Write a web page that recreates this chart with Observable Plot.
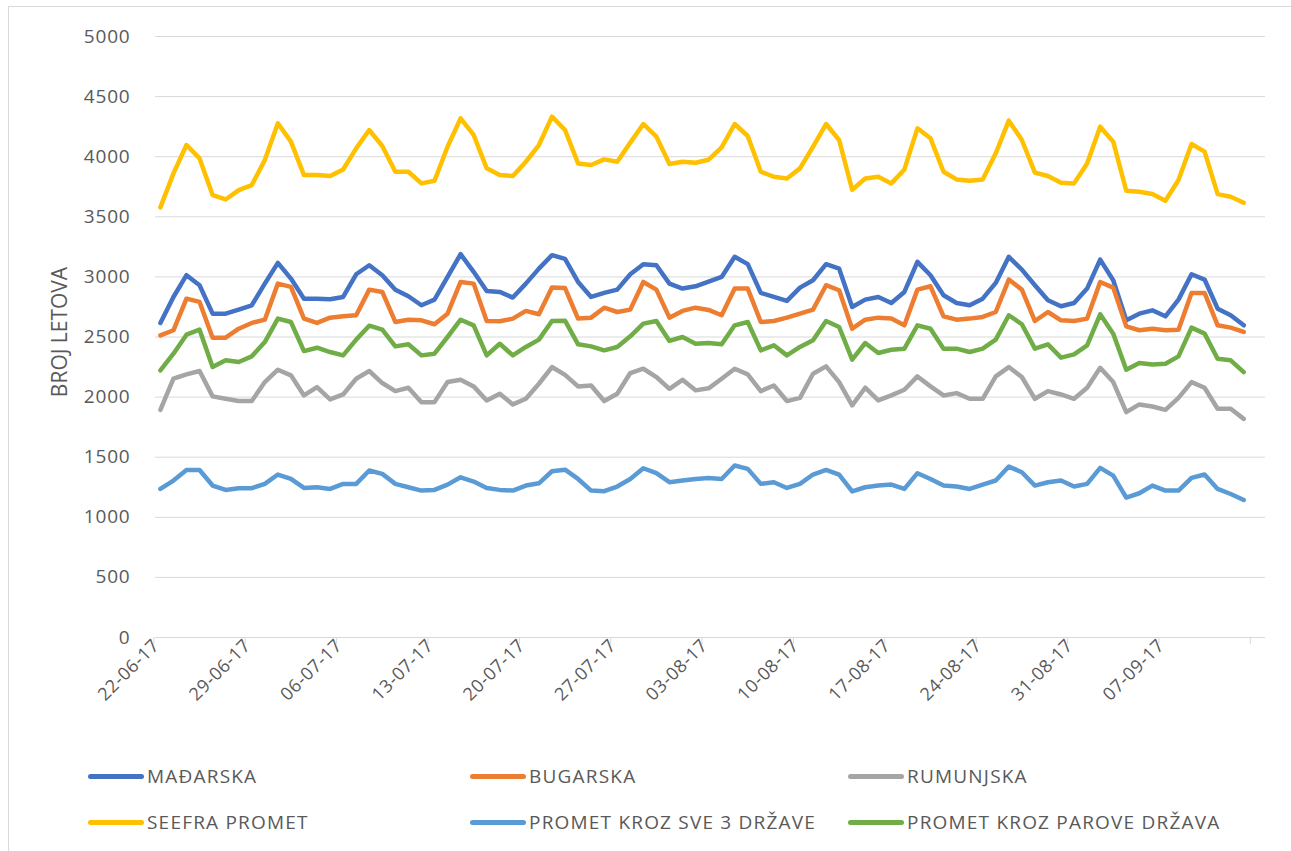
<!DOCTYPE html>
<html>
<head>
<meta charset="utf-8">
<script src="https://cdn.jsdelivr.net/npm/d3@7"></script>
<script src="https://cdn.jsdelivr.net/npm/@observablehq/plot@0.6"></script>
<style>
  html, body { margin: 0; padding: 0; background: #fff; }
  #wrap { position: relative; width: 1291px; height: 851px; overflow: hidden; font-family: "Open Sans", sans-serif; color: #595959; }
  #frame { position: absolute; left: 8px; top: 6px; width: 1300px; height: 860px; border: 1px solid #d9d9d9; box-sizing: border-box; }
  #chart { position: absolute; left: 0; top: 0; }
  #ytitle { position: absolute; left: 59px; top: 332px; transform: translate(-50%, -50%) rotate(-90deg); font-size: 21px; white-space: nowrap; color: #595959; }
  .leg { position: absolute; display: flex; align-items: center; font-size: 19px; letter-spacing: 1.2px; white-space: nowrap; color: #595959; }
  .leg .sw { width: 56px; height: 5px; border-radius: 3px; margin-right: 3px; }
</style>
</head>
<body>
<div id="wrap">
  <div id="frame"></div>
  <div id="chart"></div>
  <div id="ytitle">BROJ LETOVA</div>
  <div id="legend"></div>
</div>
<script>
// Categories: daily dates from 22-06-2017 (84 days)
const startDate = "2017-06-22";
const dayCount = 84;
const tickLabels = ["22-06-17","29-06-17","06-07-17","13-07-17","20-07-17","27-07-17","03-08-17","10-08-17","17-08-17","24-08-17","31-08-17","07-09-17"];
const yTicks = [0,500,1000,1500,2000,2500,3000,3500,4000,4500,5000];

const seriesNames = ["MAĐARSKA","BUGARSKA","RUMUNJSKA","SEEFRA PROMET","PROMET KROZ SVE 3 DRŽAVE","PROMET KROZ PAROVE DRŽAVA"];
const seriesColors = ["#4472C4","#ED7D31","#A5A5A5","#FFC000","#5B9BD5","#70AD47"];

const madjarska = [2617,2833,3014,2931,2694,2694,2728,2764,2944,3117,
  2986,2819,2819,2814,2833,3022,3097,3014,2894,2839,2764,
  2811,3000,3189,3042,2883,2875,2828,2944,3069,3181,3150,
  2958,2833,2867,2894,3022,3106,3097,2944,2903,2922,2960,
  3000,3167,3106,2867,2833,2800,2911,2972,3106,3069,2750,
  2811,2833,2783,2875,3125,3014,2847,2783,2764,2819,
  2950,3167,3061,2931,2806,2756,2783,2903,3144,2972,2640,
  2694,2722,2672,2811,3022,2978,2736,2681,2597];
const bugarska = [2514,2556,2819,2792,2494,2494,2569,2617,2644,2944,
  2917,2653,2617,2661,2672,2681,2894,2875,2625,2644,2639,
  2606,2694,2958,2944,2633,2631,2653,2717,2689,2911,2907,
  2653,2661,2744,2708,2728,2958,2894,2661,2717,2744,2725,
  2681,2903,2903,2625,2633,2661,2694,2728,2931,2889,2569,
  2644,2661,2653,2597,2894,2922,2672,2644,2653,2667,
  2708,2978,2894,2633,2708,2639,2633,2653,2958,2911,2589,
  2556,2569,2556,2561,2867,2867,2597,2578,2542];
const rumunjska = [1894,2153,2189,2217,2006,1986,1967,1967,2125,2228,
  2181,2014,2083,1981,2022,2153,2217,2117,2050,2078,1958,
  1958,2125,2144,2089,1972,2028,1939,1986,2111,2250,2185,
  2089,2097,1967,2028,2200,2236,2167,2069,2144,2056,2073,
  2153,2236,2189,2050,2097,1967,1994,2194,2256,2125,1931,
  2078,1972,2014,2061,2172,2089,2014,2033,1986,1986,
  2172,2250,2167,1986,2050,2022,1986,2078,2244,2125,1875,
  1939,1922,1894,1994,2125,2078,1903,1903,1819];
const seefra = [3578,3861,4097,3986,3681,3644,3722,3764,3972,4278,
  4125,3847,3847,3839,3894,4069,4222,4089,3875,3875,3778,
  3800,4083,4319,4181,3903,3847,3839,3958,4097,4333,4222,
  3944,3931,3978,3958,4117,4272,4167,3939,3958,3950,3975,
  4078,4272,4172,3875,3833,3819,3903,4083,4272,4139,3725,
  3819,3833,3778,3894,4236,4153,3875,3811,3800,3811,
  4028,4300,4139,3867,3839,3783,3778,3944,4250,4125,3717,
  3708,3689,3633,3806,4106,4042,3689,3667,3617];
const sve3 = [1236,1306,1394,1394,1264,1228,1242,1242,1278,1356,
  1319,1244,1250,1236,1278,1278,1389,1361,1278,1250,1222,
  1228,1272,1333,1297,1244,1228,1222,1264,1283,1383,1396,
  1319,1222,1217,1256,1319,1408,1367,1292,1306,1319,1326,
  1319,1431,1403,1278,1292,1244,1278,1356,1394,1356,1215,
  1250,1264,1272,1236,1367,1319,1264,1256,1236,1272,
  1306,1422,1375,1264,1292,1306,1256,1278,1411,1347,1164,
  1200,1264,1222,1222,1328,1356,1236,1194,1144];
const parove = [2222,2361,2519,2561,2250,2306,2292,2339,2458,2653,
  2625,2383,2411,2375,2347,2478,2594,2561,2422,2439,2347,
  2361,2500,2644,2597,2347,2444,2347,2417,2478,2633,2636,
  2439,2422,2389,2417,2506,2611,2633,2467,2500,2444,2450,
  2439,2597,2625,2389,2431,2347,2417,2472,2633,2583,2312,
  2450,2367,2394,2403,2597,2569,2403,2403,2375,2403,
  2478,2681,2606,2403,2439,2328,2356,2431,2689,2528,2228,
  2283,2272,2278,2339,2578,2528,2319,2306,2208];

const seriesValues = [madjarska, bugarska, rumunjska, seefra, sve3, parove];

const parse = d3.utcParse("%Y-%m-%d");
const dayZero = parse(startDate);
const dates = d3.utcDay.range(dayZero, d3.utcDay.offset(dayZero, dayCount));
const parseTick = d3.utcParse("%d-%m-%y");
const tickDates = tickLabels.map(parseTick);
// tick marks sit on the category boundaries (half a day before each label), plus the closing one
const tickMarkDates = tickDates.map(d => d3.utcHour.offset(d, -12));
tickMarkDates.push(d3.utcDay.offset(tickMarkDates[tickMarkDates.length - 1], 7));

const xDomain = [new Date(Date.UTC(2017,5,21,15)), new Date(Date.UTC(2017,8,14,16))];

const lineMarks = seriesValues.map((vals, k) =>
  Plot.line(vals, {
    x: (d, i) => dates[i],
    y: d => d,
    stroke: seriesColors[k],
    strokeWidth: 4.5,
    strokeLinejoin: "round",
    strokeLinecap: "round"
  })
);

const chart = Plot.plot({
  width: 1291,
  height: 740,
  marginLeft: 155,
  marginRight: 26,
  marginTop: 36,
  marginBottom: 103,
  style: { fontFamily: "Open Sans, sans-serif", fontSize: "18px", color: "#595959", background: "transparent", overflow: "visible" },
  x: { type: "utc", domain: xDomain, axis: null },
  y: { domain: [0, 5000], axis: null },
  marks: [
    Plot.gridY(yTicks, { stroke: "#d9d9d9", strokeOpacity: 1, strokeWidth: 1 }),
    // y tick labels
    Plot.text(yTicks, { y: d => d, text: d => String(d), frameAnchor: "left", dx: -25, textAnchor: "end", fontSize: 19, fontFamily: "Open Sans", fill: "#595959" }),
    // x tick marks on category boundaries
    Plot.axisX(tickMarkDates, { tickSize: 7, text: null, stroke: "#d9d9d9", strokeOpacity: 1, label: null }),
    // x tick labels, rotated
    Plot.text(tickDates, { x: d => d, text: d3.utcFormat("%d-%m-%y"), frameAnchor: "bottom", dy: 9, rotate: -45, textAnchor: "end", fontSize: 18, fontFamily: "Open Sans", fill: "#595959" }),
    ...lineMarks
  ]
});
document.getElementById("chart").appendChild(chart);

// small letter-spacing to match the wider reference digits
const textGroups = chart.querySelectorAll('g[aria-label="text"]');
if (textGroups[0]) textGroups[0].style.letterSpacing = "0.8px";
if (textGroups[1]) textGroups[1].style.letterSpacing = "0.6px";

// Legend
const legendPos = [
  [88, 776], [470, 776], [848, 776],
  [88, 822], [470, 822], [848, 822]
];
const legend = document.getElementById("legend");
seriesNames.forEach((name, k) => {
  const el = document.createElement("div");
  el.className = "leg";
  el.style.left = legendPos[k][0] + "px";
  el.style.top = (legendPos[k][1] - 13) + "px";
  el.style.height = "26px";
  const sw = document.createElement("span");
  sw.className = "sw";
  sw.style.background = seriesColors[k];
  const tx = document.createElement("span");
  tx.textContent = name;
  el.appendChild(sw);
  el.appendChild(tx);
  legend.appendChild(el);
});
</script>
</body>
</html>
